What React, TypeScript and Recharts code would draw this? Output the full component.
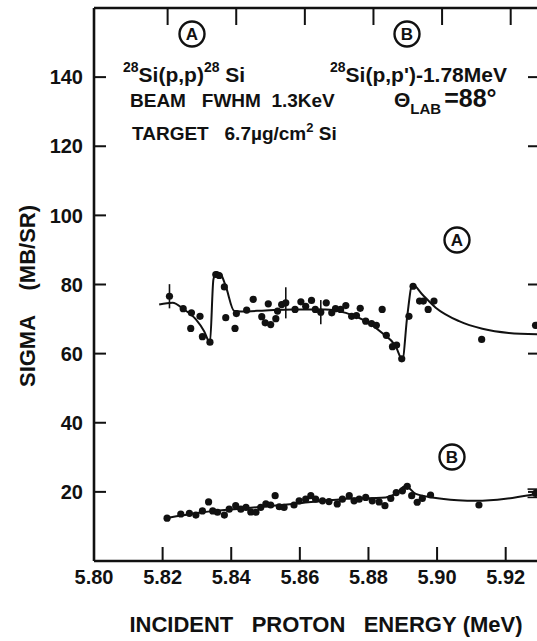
import { ComposedChart, Line, Scatter, XAxis, YAxis, ErrorBar, ReferenceLine } from 'recharts';

// elastic channel (A): measured points
const energyA = [
  5.8260, 5.8284, 5.8282, 5.8309, 5.8316, 5.8338, 5.8355, 5.8365, 5.8380, 5.8384,
  5.8411, 5.8415, 5.8445, 5.8464, 5.8489, 5.8499, 5.8508, 5.8515, 5.8530, 5.8535,
  5.8547, 5.8586, 5.8603, 5.8617, 5.8634, 5.8645, 5.8677, 5.8693, 5.8704, 5.8719,
  5.8734, 5.8751, 5.8765, 5.8776, 5.8792, 5.8809, 5.8823, 5.8840, 5.8852, 5.8870,
  5.8882, 5.8897, 5.8918, 5.8930, 5.8949, 5.8960, 5.8974, 5.8991, 5.9130, 5.9287,
];
const sigmaA = [
  73.0, 71.8, 67.3, 70.8, 64.9, 63.3, 82.9, 82.6, 79.3, 70.4,
  67.3, 71.6, 72.6, 75.7, 70.7, 68.9, 74.4, 68.4, 70.1, 72.3,
  74.2, 72.8, 75.0, 73.7, 75.4, 72.8, 74.7, 71.8, 73.0, 72.8,
  73.9, 70.8, 71.0, 73.1, 69.4, 68.7, 68.2, 72.8, 65.3, 62.0,
  62.5, 58.5, 70.8, 79.5, 75.2, 75.2, 72.8, 75.2, 64.1, 68.2,
];
// points drawn with error bars
const energyAErr = [5.8220, 5.8559, 5.8661];
const sigmaAErr = [76.6, 74.7, 72.0];
const errA = [3.5, 4.5, 3.5];

// fitted curve (A)
const fitEnergyA = [
  5.8190, 5.8229, 5.8262, 5.8297, 5.8321, 5.8338, 5.8348, 5.8357, 5.8370, 5.8384,
  5.8409, 5.8428, 5.8500, 5.8578, 5.8675, 5.8734, 5.8792, 5.8840, 5.8879, 5.8899,
  5.8913, 5.8928, 5.8957, 5.8996, 5.9064, 5.9132, 5.9209, 5.9300,
];
const fitSigmaA = [
  74.2, 74.7, 72.8, 69.9, 66.5, 63.2, 81.4, 83.6, 82.9, 79.5,
  72.3, 72.2, 72.5, 72.8, 72.8, 71.8, 69.4, 66.0, 62.2, 58.3,
  70.8, 80.0, 77.1, 73.3, 69.4, 67.2, 66.0, 65.6,
];

// inelastic channel (B): measured points
const energyB = [
  5.8213, 5.8253, 5.8278, 5.8297, 5.8316, 5.8334, 5.8346, 5.8360, 5.8380, 5.8394,
  5.8413, 5.8428, 5.8443, 5.8457, 5.8472, 5.8486, 5.8501, 5.8515, 5.8528, 5.8540,
  5.8554, 5.8583, 5.8598, 5.8617, 5.8632, 5.8646, 5.8666, 5.8685, 5.8709, 5.8724,
  5.8744, 5.8758, 5.8773, 5.8792, 5.8811, 5.8831, 5.8848, 5.8865, 5.8881, 5.8899,
  5.8913, 5.8926, 5.8942, 5.8957, 5.8981, 5.9122,
];
const sigmaB = [
  12.4, 13.6, 13.8, 13.3, 14.5, 17.1, 14.5, 14.1, 13.3, 15.0,
  16.0, 15.0, 15.5, 14.2, 14.1, 15.5, 16.5, 16.2, 18.9, 15.7,
  15.5, 16.2, 17.4, 17.9, 18.9, 17.9, 17.4, 17.2, 16.5, 17.9,
  18.9, 17.4, 17.9, 18.4, 17.4, 17.1, 16.0, 18.1, 19.8, 20.3,
  21.6, 18.9, 17.0, 18.1, 19.1, 16.2,
];
const energyBErr = [5.9287];
const sigmaBErr = [19.6];
const errB = [1.2];

// fitted curve (B)
const fitEnergyB = [
  5.8205, 5.8317, 5.8433, 5.8579, 5.8724, 5.8850, 5.8880, 5.8908, 5.8938, 5.8986,
  5.9060, 5.9112, 5.9200, 5.9258, 5.9300,
];
const fitSigmaB = [
  12.3, 14.1, 15.2, 16.5, 17.9, 18.4, 19.5, 21.7, 19.4, 18.4,
  17.6, 17.4, 18.0, 18.9, 19.5,
];

const energyTicks = [5.80, 5.82, 5.84, 5.86, 5.88, 5.90, 5.92];
const sigmaTicks = [20, 40, 60, 80, 100, 120, 140];
const rightTicks = [20, 60, 80, 120, 140];

const E_MIN = 5.8;
const E_MAX = 5.93;
const S_MAX = 160;

// plot box inside the 546x641 surface (margins + axis sizes below)
const CHART_W = 546;
const CHART_H = 641;
const M_TOP = 8;
const M_RIGHT = 6;
const Y_AXIS_W = 94;
const X_AXIS_H = 80;
const PX_L = Y_AXIS_W;
const PX_R = CHART_W - M_RIGHT;
const PY_T = M_TOP;
const PY_B = CHART_H - X_AXIS_H;
const xPx = (e: number) => PX_L + ((e - E_MIN) / (E_MAX - E_MIN)) * (PX_R - PX_L);
const yPx = (s: number) => PY_B - (s / S_MAX) * (PY_B - PY_T);

const pts = (xs: number[], ys: number[], es?: number[]) =>
  xs.map((e, i) => ({ e, s: ys[i], err: es ? es[i] : 0 }));

const FONT = "'Liberation Sans', Arial, sans-serif";
const INK = '#111';

const Dot = (p: any) => <circle cx={p.cx} cy={p.cy} r={3.6} fill={INK} />;

const LeftTickLabel = (p: any) => (
  <text x={p.x} y={p.y} dy="0.36em" textAnchor="end" fontFamily={FONT} fontWeight="bold" fontSize={20} fill={INK}>
    {p.payload.value}
  </text>
);

const BottomTickLabel = (p: any) => (
  <text x={p.x} y={p.y + 14} textAnchor="middle" fontFamily={FONT} fontWeight="bold" fontSize={20} fill={INK}>
    {p.payload.value.toFixed(2)}
  </text>
);

const Circled = ({ x, y, t }: { x: number; y: number; t: string }) => (
  <g>
    <circle cx={x} cy={y} r={12.5} fill="none" stroke={INK} strokeWidth={2.4} />
    <text x={x} y={y} dy="0.36em" textAnchor="middle" fontFamily={FONT} fontWeight="bold" fontSize={17} fill={INK}>
      {t}
    </text>
  </g>
);

export default function App() {
  const txt = { fontFamily: FONT, fontWeight: 'bold' as const, fill: INK };
  const inner = energyTicks.slice(1);
  return (
    <div style={{ position: 'absolute', left: 0, top: 0, width: 537, height: 641, overflow: 'hidden', background: '#fff' }}>
      <ComposedChart width={CHART_W} height={CHART_H} margin={{ top: M_TOP, right: M_RIGHT, bottom: 0, left: 0 }}>
        <XAxis
          xAxisId="b"
          type="number"
          dataKey="e"
          domain={[E_MIN, E_MAX]}
          ticks={energyTicks}
          allowDataOverflow
          height={X_AXIS_H}
          tickLine={false}
          tickSize={0}
          tickMargin={9}
          axisLine={{ stroke: INK, strokeWidth: 2.4 }}
          tick={<BottomTickLabel />}
        />
        <YAxis
          yAxisId="l"
          type="number"
          domain={[0, S_MAX]}
          ticks={sigmaTicks}
          allowDataOverflow
          width={Y_AXIS_W}
          tickLine={false}
          tickSize={0}
          tickMargin={11}
          axisLine={{ stroke: INK, strokeWidth: 2.6 }}
          tick={<LeftTickLabel />}
        />

        {/* frame top edge */}
        <ReferenceLine xAxisId="b" yAxisId="l" y={S_MAX} stroke={INK} strokeWidth={2.4} />

        <Line
          xAxisId="b"
          yAxisId="l"
          data={pts(fitEnergyA, fitSigmaA)}
          dataKey="s"
          type="monotone"
          stroke={INK}
          strokeWidth={2}
          dot={false}
          isAnimationActive={false}
        />
        <Line
          xAxisId="b"
          yAxisId="l"
          data={pts(fitEnergyB, fitSigmaB)}
          dataKey="s"
          type="monotone"
          stroke={INK}
          strokeWidth={2}
          dot={false}
          isAnimationActive={false}
        />
        <Scatter xAxisId="b" yAxisId="l" data={pts(energyA, sigmaA)} dataKey="s" shape={<Dot />} isAnimationActive={false} />
        <Scatter xAxisId="b" yAxisId="l" data={pts(energyB, sigmaB)} dataKey="s" shape={<Dot />} isAnimationActive={false} />
        <Scatter xAxisId="b" yAxisId="l" data={pts(energyAErr, sigmaAErr, errA)} dataKey="s" shape={<Dot />} isAnimationActive={false}>
          <ErrorBar dataKey="err" direction="y" width={0} stroke={INK} strokeWidth={1.6} />
        </Scatter>
        <Scatter xAxisId="b" yAxisId="l" data={pts(energyBErr, sigmaBErr, errB)} dataKey="s" shape={<Dot />} isAnimationActive={false}>
          <ErrorBar dataKey="err" direction="y" width={8} stroke={INK} strokeWidth={1.6} />
        </Scatter>
      </ComposedChart>

      <svg width={537} height={641} style={{ position: 'absolute', left: 0, top: 0, pointerEvents: 'none' }}>
        {/* inward tick marks on all four sides of the frame */}
        {sigmaTicks.map((v) => (
          <rect key={`l${v}`} x={PX_L} y={yPx(v) - 1} width={12} height={2} fill={INK} />
        ))}
        {rightTicks.map((v) => (
          <rect key={`r${v}`} x={PX_R - 12} y={yPx(v) - 1} width={12} height={2} fill={INK} />
        ))}
        {inner.map((v) => (
          <rect key={`b${v}`} x={xPx(v) - 1} y={PY_B - 14} width={2} height={14} fill={INK} />
        ))}
        {inner.map((v) => (
          <rect key={`t${v}`} x={xPx(v) + 4} y={PY_T} width={2} height={17} fill={INK} />
        ))}

        <Circled x={192} y={34} t="A" />
        <Circled x={407} y={34} t="B" />
        <Circled x={457} y={240} t="A" />
        <Circled x={452} y={457} t="B" />

        <text x={123} y={82} fontSize={21} {...txt}>
          <tspan fontSize={14} dy={-10}>28</tspan>
          <tspan dy={10}>Si(p,p)</tspan>
          <tspan fontSize={14} dy={-10}>28</tspan>
          <tspan dy={10}>{'\u00A0Si'}</tspan>
        </text>
        <text x={330} y={82} fontSize={21} {...txt}>
          <tspan fontSize={14} dy={-10}>28</tspan>
          <tspan dy={10}>{"Si(p,p')-1.78MeV"}</tspan>
        </text>
        <text x={130} y={107} fontSize={19} {...txt}>
          {'BEAM\u00A0\u00A0\u00A0FWHM\u00A0\u00A01.3KeV'}
        </text>
        <text x={394} y={107} fontSize={21} {...txt}>
          <tspan>Θ</tspan>
          <tspan fontSize={15} dy={7}>LAB</tspan>
          <tspan dy={-7} dx={3} fontSize={25}>{'=88°'}</tspan>
        </text>
        <text x={132} y={140} fontSize={19} {...txt}>
          {'TARGET\u00A0\u00A0\u00A06.7µg/cm'}
          <tspan fontSize={13} dy={-8}>2</tspan>
          <tspan dy={8}>{'\u00A0Si'}</tspan>
        </text>

        <text x={326} y={632} textAnchor="middle" fontSize={22} {...txt}>
          {'INCIDENT\u00A0\u00A0\u00A0PROTON\u00A0\u00A0\u00A0ENERGY\u00A0(MeV)'}
        </text>
        <text transform="translate(35,296) rotate(-90)" textAnchor="middle" fontSize={22} {...txt}>
          {'SIGMA\u00A0\u00A0\u00A0\u00A0(MB/SR)'}
        </text>
      </svg>
    </div>
  );
}
